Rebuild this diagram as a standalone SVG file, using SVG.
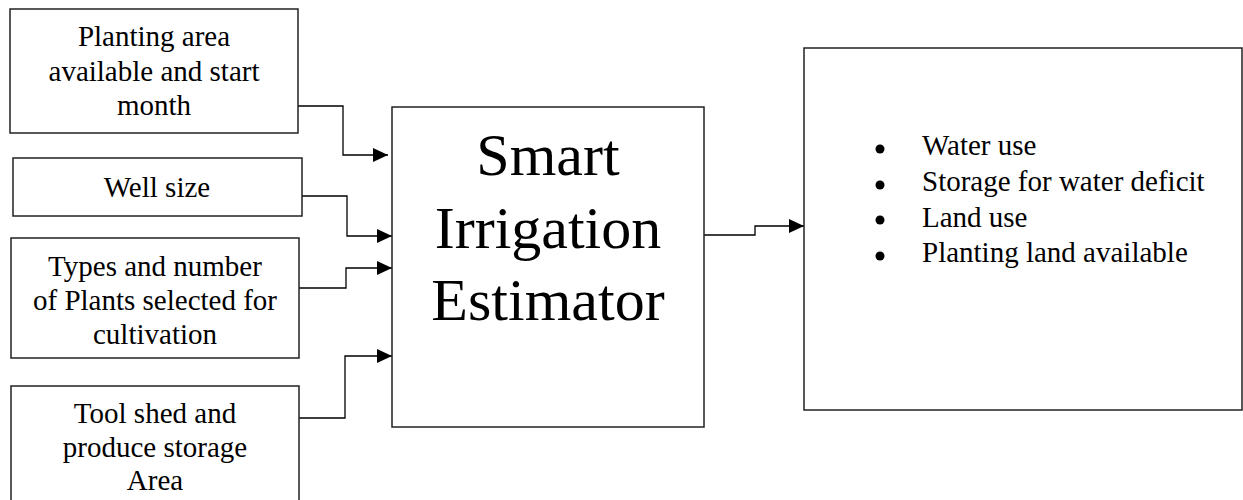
<svg xmlns="http://www.w3.org/2000/svg" width="1243" height="500" viewBox="0 0 1243 500">
<style>
.box{fill:#fff;stroke:#222;stroke-width:1.5}
.t,.big,.li{font-family:'Liberation Serif','Times New Roman',Times,'DejaVu Serif',serif;fill:#000}
.t{font-size:29px;text-anchor:middle}
.big{font-size:60px;text-anchor:middle}
.li{font-size:29px}
.c{fill:none;stroke:#000;stroke-width:1.3}
</style>
<defs>
<marker id="ah" viewBox="0 0 15 14" refX="15" refY="7" markerWidth="15" markerHeight="14" markerUnits="userSpaceOnUse" orient="auto">
<path d="M0,0 L15,7 L0,14 Z" fill="#000"/>
</marker>
</defs>
<rect width="1243" height="500" fill="#fff"/>
<g id="connectors">
<path class="c" d="M298,106 H343 V155 H388" marker-end="url(#ah)"/>
<path class="c" d="M302,196 H347 V236 H392" marker-end="url(#ah)"/>
<path class="c" d="M299,288 H346 V268 H392" marker-end="url(#ah)"/>
<path class="c" d="M299,418 H345 V356 H392" marker-end="url(#ah)"/>
<path class="c" d="M704,235 H755 V226 H804" marker-end="url(#ah)"/>
</g>
<g id="n1">
<rect class="box" x="10" y="9" width="288" height="124"/>
<text class="t" x="154" y="46" font-family="Liberation Serif, serif">Planting area</text>
<text class="t" x="154" y="81" font-family="Liberation Serif, serif">available and start</text>
<text class="t" x="154" y="115" font-family="Liberation Serif, serif">month</text>
</g>
<g id="n2">
<rect class="box" x="13" y="158" width="289" height="58"/>
<text class="t" x="157" y="197" font-family="Liberation Serif, serif">Well size</text>
</g>
<g id="n3">
<rect class="box" x="11" y="238" width="288" height="120"/>
<text class="t" x="155" y="276" font-family="Liberation Serif, serif">Types and number</text>
<text class="t" x="155" y="310" font-family="Liberation Serif, serif">of Plants selected for</text>
<text class="t" x="155" y="344" font-family="Liberation Serif, serif">cultivation</text>
</g>
<g id="n4">
<rect class="box" x="11" y="386" width="288" height="130"/>
<text class="t" x="155" y="423" font-family="Liberation Serif, serif">Tool shed and</text>
<text class="t" x="155" y="457" font-family="Liberation Serif, serif">produce storage</text>
<text class="t" x="155" y="490" font-family="Liberation Serif, serif">Area</text>
</g>
<g id="center">
<rect class="box" x="392" y="107" width="312" height="320"/>
<text class="big" x="548" y="175" font-family="Liberation Serif, serif">Smart</text>
<text class="big" x="548" y="248" font-family="Liberation Serif, serif">Irrigation</text>
<text class="big" x="548" y="320" font-family="Liberation Serif, serif">Estimator</text>
</g>
<g id="output">
<rect class="box" x="804" y="48" width="438" height="362"/>
<circle cx="880" cy="149" r="4.5"/>
<circle cx="880" cy="185" r="4.5"/>
<circle cx="880" cy="220" r="4.5"/>
<circle cx="880" cy="256" r="4.5"/>
<text class="li" x="922" y="155" font-family="Liberation Serif, serif">Water use</text>
<text class="li" x="922" y="191" font-family="Liberation Serif, serif">Storage for water deficit</text>
<text class="li" x="922" y="227" font-family="Liberation Serif, serif">Land use</text>
<text class="li" x="922" y="262" font-family="Liberation Serif, serif">Planting land available</text>
</g>
</svg>
